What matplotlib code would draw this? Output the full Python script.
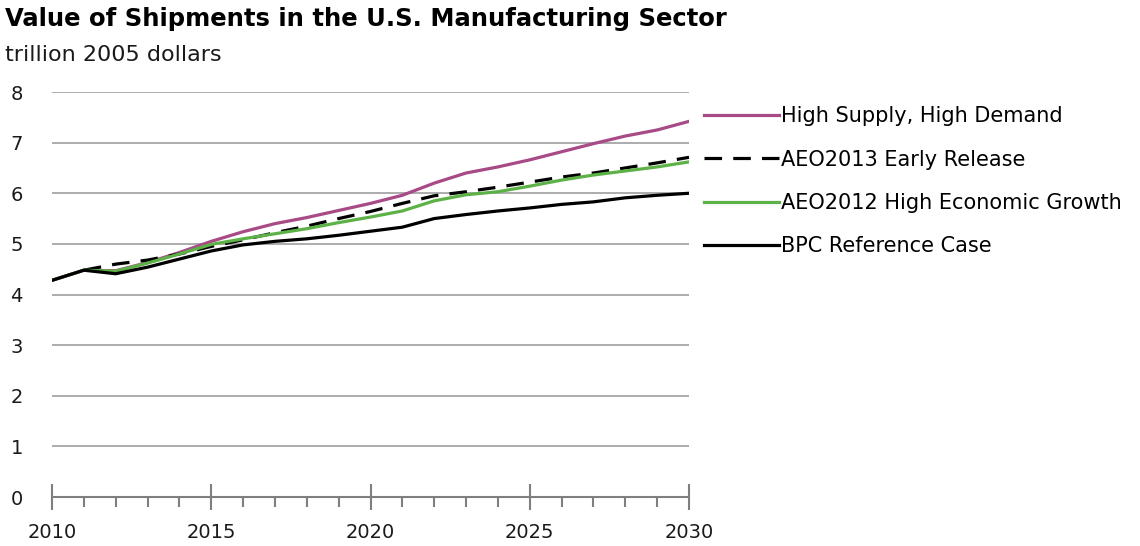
import matplotlib
matplotlib.use("Agg")
import matplotlib.pyplot as plt
from matplotlib.ticker import MultipleLocator

plt.rcParams.update({
    'font.family': 'sans-serif',
    'font.sans-serif': ['DejaVu Sans'],
    'font.size': 14,
})

years = list(range(2010, 2031))

# trillion 2005 dollars
high_supply_demand = [4.28, 4.48, 4.47, 4.63, 4.83, 5.05, 5.24, 5.40, 5.52, 5.66, 5.80,
                      5.96, 6.20, 6.40, 6.52, 6.66, 6.82, 6.98, 7.13, 7.25, 7.42]
aeo2013_early = [4.48, 4.60, 4.68, 4.80, 4.95, 5.08, 5.22, 5.35, 5.50, 5.64,
                 5.80, 5.95, 6.03, 6.12, 6.22, 6.32, 6.40, 6.50, 6.60, 6.71]
aeo2012_high = [4.28, 4.48, 4.46, 4.62, 4.80, 4.99, 5.10, 5.20, 5.30, 5.42, 5.53,
                5.65, 5.85, 5.97, 6.03, 6.14, 6.26, 6.36, 6.44, 6.52, 6.62]
bpc_reference = [4.28, 4.48, 4.41, 4.54, 4.70, 4.86, 4.98, 5.05, 5.10, 5.17, 5.25,
                 5.33, 5.50, 5.58, 5.65, 5.71, 5.78, 5.83, 5.91, 5.96, 6.00]

series_labels = ['High Supply, High Demand', 'AEO2013 Early Release',
                 'AEO2012 High Economic Growth', 'BPC Reference Case']

fig = plt.figure(figsize=(11.4, 5.46), dpi=100)
ax = fig.add_axes([0.0456, 0.0897, 0.5588, 0.7418])

lw = 2.3
ax.plot(years, high_supply_demand, color='#a84a86', lw=lw, label=series_labels[0])
ax.plot(years[1:], aeo2013_early, color='black', lw=lw, dashes=(5.5, 3.5), label=series_labels[1])
ax.plot(years, aeo2012_high, color='#5db247', lw=lw, label=series_labels[2])
ax.plot(years, bpc_reference, color='black', lw=lw, label=series_labels[3])

ax.set_xlim(2010, 2030)
ax.set_ylim(0, 8)
ax.yaxis.set_major_locator(MultipleLocator(1))
ax.xaxis.set_major_locator(MultipleLocator(5))
ax.xaxis.set_minor_locator(MultipleLocator(1))

ax.grid(axis='y', color='#a6a6a6', lw=1.3)
ax.set_axisbelow(True)
for side in ['top', 'right', 'left']:
    ax.spines[side].set_visible(False)
ax.spines['bottom'].set_color('#7f7f7f')
ax.spines['bottom'].set_linewidth(1.5)

ax.tick_params(axis='y', length=0, pad=21, labelsize=14, labelcolor='#1a1a1a')
ax.tick_params(axis='x', which='major', direction='inout', length=19, width=1.5,
               color='#7f7f7f', pad=9, labelsize=14, labelcolor='#1a1a1a')
ax.tick_params(axis='x', which='minor', direction='out', length=7, width=1.5,
               color='#7f7f7f')

fig.text(0.004, 0.966, 'Value of Shipments in the U.S. Manufacturing Sector',
         fontsize=17.5, fontweight='bold', ha='left', va='center')
fig.text(0.004, 0.9, 'trillion 2005 dollars', fontsize=16, ha='left', va='center',
         color='#1a1a1a')

ax.legend(loc='upper left', bbox_to_anchor=(1.01, 0.985), frameon=False,
          handlelength=3.6, handletextpad=0.1, labelspacing=1.12, fontsize=15,
          borderaxespad=0)

fig.savefig('out.png', dpi=100)
